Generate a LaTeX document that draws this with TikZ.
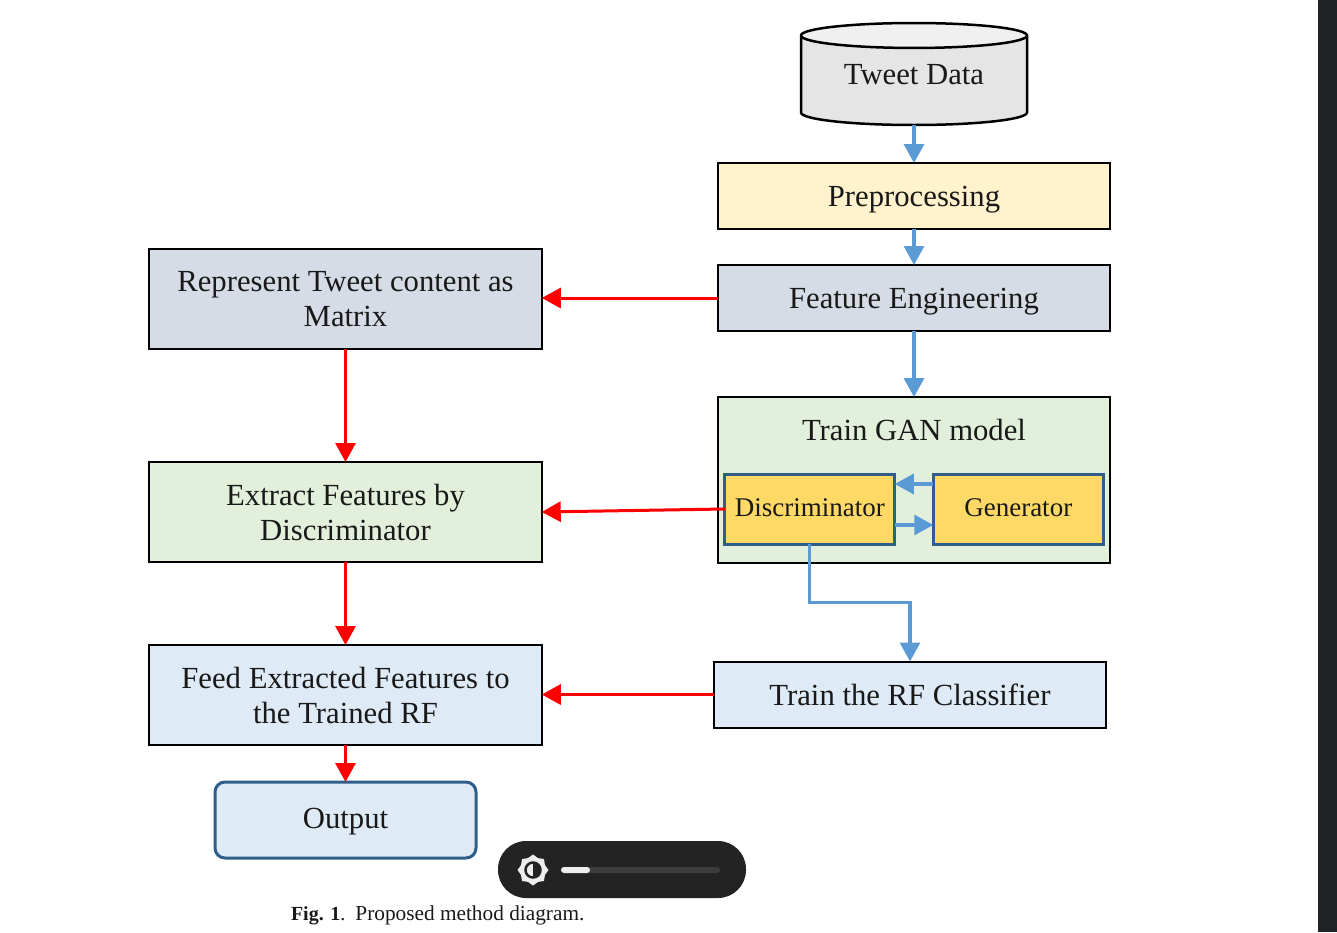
\documentclass[tikz,border=0pt]{standalone}
\usepackage{xcolor}
\usepackage{fontspec}
\setmainfont{Liberation Serif}
\usetikzlibrary{arrows.meta,positioning,shapes.geometric,calc}
\definecolor{flowblue}{HTML}{5B9BD5}
\definecolor{edgeblue}{HTML}{2E5F8A}
\definecolor{darkui}{HTML}{232323}
\definecolor{creambox}{HTML}{FFF2CC}
\definecolor{slatebox}{HTML}{D6DCE5}
\definecolor{greenbox}{HTML}{E2EFDA}
\definecolor{skybox}{HTML}{DEEAF6}
\definecolor{amberbox}{HTML}{FFD966}
\definecolor{sideband}{HTML}{1F2326}
\begin{document}
\begin{tikzpicture}[
x=1pt, y=1pt,
node distance=36pt and 36pt,
every node/.style={font=\fontsize{30.7}{35}\selectfont, text=black!90, outer sep=0pt},
wide/.style={draw=black, line width=2pt, minimum width=392.5pt, minimum height=66pt, align=center, text depth=0pt},
tall/.style={wide, minimum height=100pt},
inner/.style={draw=edgeblue, line width=3pt, fill=amberbox, minimum width=170pt, minimum height=70pt, align=center, inner sep=0pt, text depth=3pt, font=\fontsize{27}{32}\selectfont},
blarr/.style={-{Triangle[length=19pt,width=20pt]}, line width=3.2pt, draw=flowblue},
redarr/.style={-{Triangle[length=19pt,width=20pt]}, line width=3pt, draw=red}
]
\useasboundingbox (0,0) rectangle (1337,-932);
\fill[white] (0,0) rectangle (1337,-932);
\node[minimum width=19pt, minimum height=932pt, fill=sideband, anchor=north east] (band) at (1337,0) {};

% right column
\node[cylinder, shape border rotate=90, aspect=0.17, draw=black, line width=2.5pt, cylinder uses custom fill, cylinder body fill=black!10, cylinder end fill=black!6, minimum width=226pt, minimum height=102pt, text depth=16pt, anchor=south] (tweet) at (914,-125) {Tweet Data};
\node[wide, fill=creambox, below=38pt of tweet] (prep) {Preprocessing};
\node[wide, fill=slatebox, below=of prep] (feat) {Feature Engineering};
\node[wide, fill=greenbox, minimum height=166pt, below=66pt of feat] (gan) {};
\node[below=19pt of gan.north] (gantitle) {Train GAN model};
\node[inner, anchor=south west] (disc) at ($(gan.south west)+(7,19)$) {Discriminator};
\node[inner, anchor=south east] (gen) at ($(gan.south east)+(-7,19)$) {Generator};
\node[wide, fill=skybox, below=98.5pt of gan, xshift=-4pt] (rf) {Train the RF Classifier};

% left column
\node[tall, fill=slatebox, anchor=north] (matrix) at (345.5,-249) {Represent Tweet content as\\Matrix};
\node[tall, fill=greenbox, below=113pt of matrix] (extract) {Extract Features by\\Discriminator};
\node[tall, fill=skybox, below=83pt of extract] (feed) {Feed Extracted Features to\\the Trained RF};
\node[draw=edgeblue, line width=3pt, rounded corners=10pt, fill=skybox, minimum width=261pt, minimum height=76pt, below=37pt of feed, text depth=3pt] (output) {Output};

\draw[blarr] (tweet) -- (prep);
\draw[blarr] (prep) -- (feat);
\draw[blarr] (feat) -- (gan);
\draw[blarr] ($(gen.west)+(0,25)$) -- ($(disc.east)+(0,25)$);
\draw[blarr] ($(disc.east)+(0,-16)$) -- ($(gen.west)+(0,-16)$);
\draw[blarr] (disc.south) -- ++(0,-58.5) -| (rf.north);

\draw[redarr] (feat) -- (feat -| matrix.east);
\draw[redarr] (matrix) -- (extract);
\draw[redarr] (disc.west) -- (extract.east);
\draw[redarr] (extract) -- (feed);
\draw[redarr] (rf) -- (rf -| feed.east);
\draw[redarr] (feed) -- (output);

% caption and slider
\node[anchor=base west, inner sep=0pt, font=\fontsize{21.3}{24}\selectfont] (caption) at (291,-920) {{\fontsize{20}{24}\selectfont\textbf{Fig. 1}.}\hspace{10pt}Proposed method diagram.};
\node[fill=darkui, rounded corners=28pt, minimum width=248pt, minimum height=57pt, anchor=north west] (slider) at (498,-841) {};
\node[star, star points=8, star point ratio=1.2, fill=white!93!black, minimum size=31pt, inner sep=0pt] (sun) at (533,-870) {};
\node[circle, draw=darkui, line width=2.5pt, fill=white!93!black, minimum size=15pt, inner sep=0pt] (dial) at (sun) {};
\fill[darkui] (dial.north) arc[start angle=90, end angle=-90, radius=7.5pt] -- cycle;
\node[fill=white!12!darkui, rounded corners=3pt, minimum width=159pt, minimum height=6pt, inner sep=0pt, anchor=west] (track) at (561,-870) {};
\node[fill=white!93!black, rounded corners=3pt, minimum width=29pt, minimum height=6pt, inner sep=0pt, anchor=west] (level) at (track.west) {};
\end{tikzpicture}
\end{document}
